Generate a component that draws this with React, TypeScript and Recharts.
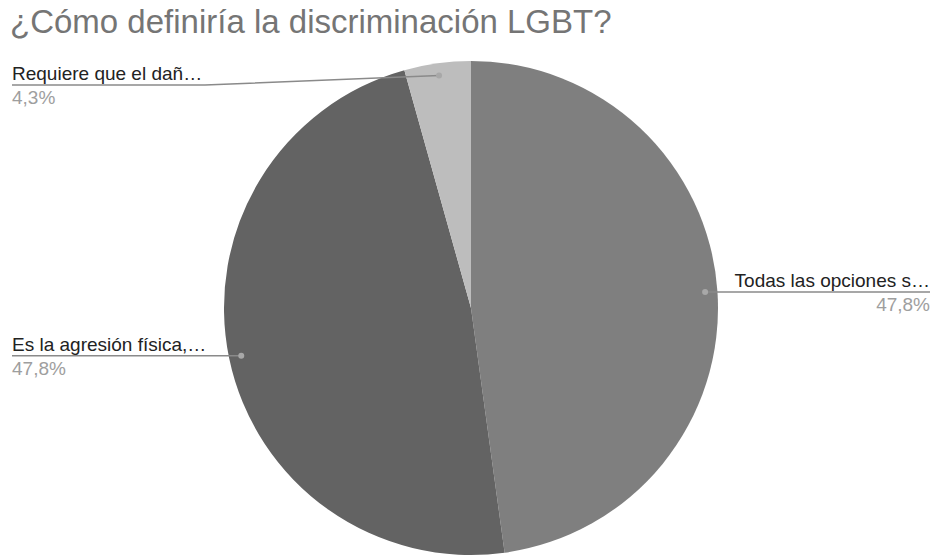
import { Cell, Pie, PieChart } from 'recharts';

const respuestas = [
  'Todas las opciones s…',
  'Es la agresión física,…',
  'Requiere que el dañ…',
];
const votos = [11, 11, 1];
const colores = ['#7f7f7f', '#636363', '#bdbdbd'];

const datos = respuestas.map((nombre, i) => ({ nombre, votos: votos[i] }));

const RAD = Math.PI / 180;
const ANCHO = 933;
const ALTO = 558;
const FUENTE = '"Liberation Sans", Arial, sans-serif';

const porcentaje = (p: number) => (p * 100).toFixed(1).replace('.', ',') + '%';

function Etiqueta(props: any) {
  const { cx, cy, midAngle, outerRadius, percent, index } = props;
  const r = outerRadius * 0.95;
  const x = cx + r * Math.cos(-midAngle * RAD);
  const y = cy + r * Math.sin(-midAngle * RAD);
  const derecha = x > cx;
  const lineaY = Math.max(y, cy - outerRadius + 24);
  const borde = derecha ? ANCHO - 3 : 12;
  const codo = derecha ? 730 : 205;
  return (
    <g>
      <path
        d={`M${borde},${lineaY} L${codo},${lineaY} L${x},${y}`}
        stroke="#8a8a8a"
        strokeWidth={1.5}
        fill="none"
      />
      <circle cx={x} cy={y} r={3} fill="#a8a8a8" />
      <text
        x={borde}
        y={lineaY - 5}
        textAnchor={derecha ? 'end' : 'start'}
        fontSize={19}
        fontFamily={FUENTE}
        fill="#222"
      >
        {respuestas[index]}
      </text>
      <text
        x={borde}
        y={lineaY + 19}
        textAnchor={derecha ? 'end' : 'start'}
        fontSize={19}
        fontFamily={FUENTE}
        fill="#9e9e9e"
      >
        {porcentaje(percent)}
      </text>
    </g>
  );
}

export default function App() {
  return (
    <div
      style={{
        position: 'absolute',
        left: 0,
        top: 0,
        width: ANCHO,
        height: ALTO,
        background: '#fff',
        fontFamily: FUENTE,
      }}
    >
      <div
        style={{
          position: 'absolute',
          left: 10,
          top: 3,
          fontSize: 33,
          color: '#757575',
          whiteSpace: 'nowrap',
        }}
      >
        ¿Cómo definiría la discriminación LGBT?
      </div>
      <PieChart
        width={ANCHO}
        height={ALTO}
        margin={{ top: 0, right: 0, bottom: 0, left: 0 }}
      >
        <Pie
          data={datos}
          dataKey="votos"
          nameKey="nombre"
          cx={471}
          cy={308}
          outerRadius={247}
          startAngle={90}
          endAngle={-270}
          stroke="none"
          labelLine={false}
          label={Etiqueta}
          isAnimationActive={false}
        >
          {datos.map((_, i) => (
            <Cell key={i} fill={colores[i]} />
          ))}
        </Pie>
      </PieChart>
    </div>
  );
}
